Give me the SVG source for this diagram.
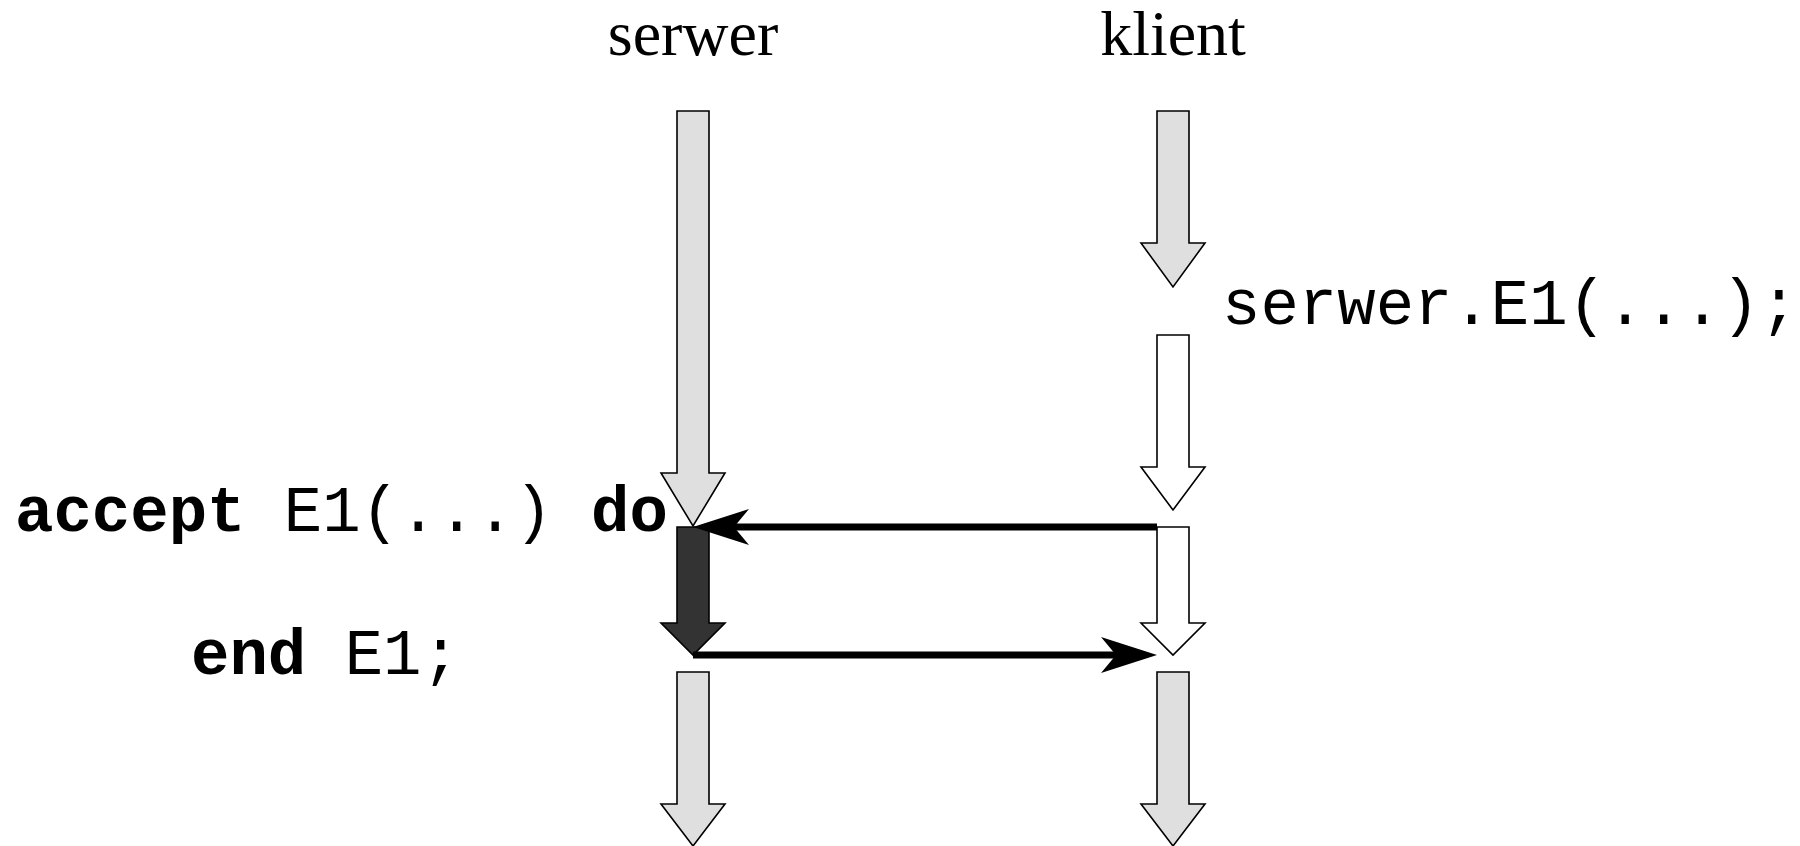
<svg xmlns="http://www.w3.org/2000/svg" width="1800" height="846" viewBox="0 0 1800 846">
<style>
.bar{stroke:#000;stroke-width:1.6;stroke-linejoin:miter}
.gray{fill:#dfdfdf}
.white{fill:#fff}
.dark{fill:#333}
.title{font-family:"Liberation Serif","Times New Roman",serif;font-size:64px;fill:#000;text-anchor:middle}
.code{font-family:"Liberation Mono","Courier New",monospace;font-size:64px;fill:#000}
.kw{font-weight:bold}
.conn{stroke:#000;stroke-width:7;fill:none}
</style>
<defs>
<marker id="ah" viewBox="0 -19 57 38" refX="15" refY="0" markerWidth="57" markerHeight="38" markerUnits="userSpaceOnUse" orient="auto">
<path d="M0,-18 L56,0 L0,18 L15,0 Z" fill="#000"/>
</marker>
</defs>
<rect width="1800" height="846" fill="#fff"/>
<g id="title-serwer"><text class="title" x="693" y="55">serwer</text></g>
<g id="title-klient"><text class="title" x="1173" y="55">klient</text></g>
<g id="server-wait"><polygon class="bar gray" points="677,111 709,111 709,473 725,473 693,526 661,473 677,473"/></g>
<g id="client-run1"><polygon class="bar gray" points="1157,111 1189,111 1189,243 1205,243 1173,287 1141,243 1157,243"/></g>
<g id="client-call"><text class="code" x="1222" y="324">serwer.E1(...);</text></g>
<g id="client-wait1"><polygon class="bar white" points="1157,335 1189,335 1189,467 1205,467 1173,510 1141,467 1157,467"/></g>
<g id="accept-label"><text class="code" x="15" y="531"><tspan class="kw">accept</tspan> E1(...) <tspan class="kw">do</tspan></text></g>
<g id="server-rendezvous"><polygon class="bar dark" points="677,527 709,527 709,623 725,623 693,655 661,623 677,623"/></g>
<g id="client-wait2"><polygon class="bar white" points="1157,527 1189,527 1189,623 1205,623 1173,655 1141,623 1157,623"/></g>
<g id="end-label"><text class="code" x="191" y="674"><tspan class="kw">end</tspan> E1;</text></g>
<g id="server-run2"><polygon class="bar gray" points="677,672 709,672 709,804 725,804 693,846 661,804 677,804"/></g>
<g id="client-run2"><polygon class="bar gray" points="1157,672 1189,672 1189,804 1205,804 1173,846 1141,804 1157,804"/></g>
<g id="connectors">
<path class="conn" d="M1157,527 L734,527" marker-end="url(#ah)"/>
<path class="conn" d="M693,655 L1116,655" marker-end="url(#ah)"/>
</g>
</svg>
